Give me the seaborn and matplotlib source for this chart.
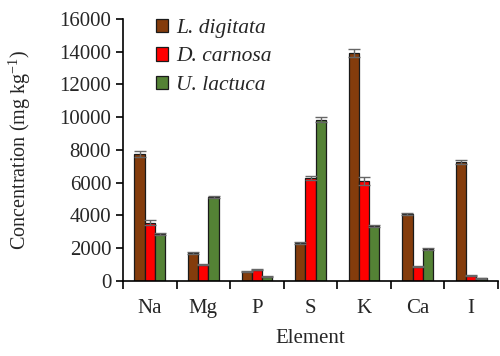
import numpy as np
import pandas as pd
import seaborn as sns
import matplotlib.pyplot as plt

# data
elements = ["Na", "Mg", "P", "S", "K", "Ca", "I"]
species = ["L. digitata", "D. carnosa", "U. lactuca"]
l_digitata = [7750, 1710, 550, 2320, 13920, 4090, 7270]
d_carnosa = [3550, 980, 670, 6290, 6110, 860, 300]
u_lactuca = [2870, 5130, 250, 9830, 3360, 1950, 150]
l_digitata_err = [200, 40, 30, 60, 250, 50, 130]
d_carnosa_err = [150, 40, 30, 130, 250, 40, 30]
u_lactuca_err = [50, 60, 20, 150, 60, 40, 20]

colors = ["#843C0C", "#FF0000", "#548235"]

df = pd.DataFrame({
    "Element": elements * 3,
    "Species": np.repeat(species, len(elements)),
    "Value": l_digitata + d_carnosa + u_lactuca,
    "Err": l_digitata_err + d_carnosa_err + u_lactuca_err,
})

sns.set_style("ticks")
plt.rcParams["font.family"] = ["Liberation Serif", "DejaVu Serif"]
plt.rcParams["mathtext.fontset"] = "custom"
plt.rcParams["mathtext.rm"] = "Liberation Serif"
plt.rcParams["mathtext.it"] = "Liberation Serif:italic"

fig = plt.figure(figsize=(5, 3.56), dpi=100)
ax = fig.add_axes([0.246, 0.211, 0.75, 0.736])

sns.barplot(data=df, x="Element", y="Value", hue="Species", order=elements,
            hue_order=species, palette=colors, saturation=1, errorbar=None,
            width=0.575, edgecolor="#1a1a1a", linewidth=0.9, ax=ax)

# error bars from the bar positions
for sp, bars in zip(species, ax.containers):
    sub = df[df["Species"] == sp].set_index("Element").loc[elements]
    xs = [b.get_x() + b.get_width() / 2 for b in bars]
    ax.errorbar(xs, sub["Value"], yerr=sub["Err"], fmt="none", ecolor="#666666",
                elinewidth=1.0, capsize=4, capthick=1.0)

ax.set_ylim(0, 16000)
ax.set_yticks(range(0, 16001, 2000))
ax.set_xlim(-0.5, len(elements) - 0.5)
ax.set_xticks(np.arange(-0.5, len(elements), 1.0))
ax.set_xticklabels([])
ax.set_xticks(range(len(elements)), minor=True)
ax.set_xticklabels(elements, minor=True)
ax.tick_params(axis="x", which="minor", length=0, labelsize=15, pad=13)
ax.tick_params(axis="x", which="major", length=6, width=1.2, color="black")
ax.tick_params(axis="y", labelsize=15, length=5, width=1.2, color="black")
for s in ["left", "bottom"]:
    ax.spines[s].set_linewidth(1.2)
    ax.spines[s].set_color("black")
sns.despine(ax=ax)

ax.set_xlabel("Element", fontsize=15, labelpad=8)
ax.set_ylabel("Concentration (mg kg$^{-1}$)", fontsize=14.5)
ax.yaxis.set_label_coords(-0.239, 0.5)

leg = ax.legend(loc="upper left", bbox_to_anchor=(0.035, 1.075), frameon=False,
                fontsize=15.5, handlelength=0.6, handleheight=0.6,
                handletextpad=0.35, labelspacing=0.42)
for t in leg.get_texts():
    t.set_fontstyle("italic")

fig.savefig("out.png", dpi=100)
